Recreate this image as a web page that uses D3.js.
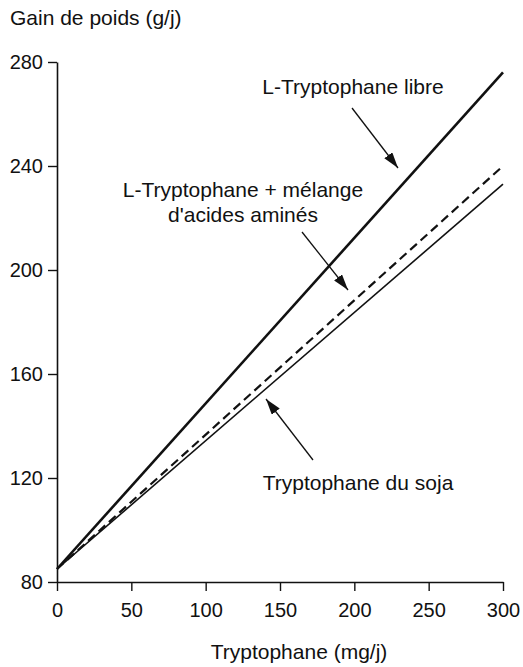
<!DOCTYPE html>
<html>
<head>
<meta charset="utf-8">
<script src="https://cdn.jsdelivr.net/npm/d3@7"></script>
<style>
  body { margin: 0; background: #fff; }
  text { font-family: "Liberation Sans", Arial, sans-serif; fill: #111; }
</style>
</head>
<body>
<div class="canvas"></div>
<script>
// data
const xTicks = [0, 50, 100, 150, 200, 250, 300];
const yTicks = [80, 120, 160, 200, 240, 280];
const tryptoDose = [0, 300];
const libre = [85, 276];
const melange = [85, 240];
const soja = [85, 233];

const dims = { width: 523, height: 667 };

const svg = d3.select('.canvas')
    .append('svg')
    .attr('width', dims.width)
    .attr('height', dims.height);

const x = d3.scaleLinear().domain([0, 300]).range([57, 503]);
const y = d3.scaleLinear().domain([80, 280]).range([582, 62]);

// axes
const xAxis = svg.append('g')
    .attr('transform', `translate(0,${y(80)})`)
    .call(d3.axisBottom(x).tickValues(xTicks).tickSize(9).tickPadding(12).tickSizeOuter(0));
const yAxis = svg.append('g')
    .attr('transform', `translate(${x(0)},0)`)
    .call(d3.axisLeft(y).tickValues(yTicks).tickSize(9).tickPadding(5).tickSizeOuter(0));

[xAxis, yAxis].forEach(ax => {
    ax.select('.domain').attr('stroke', '#111').attr('stroke-width', 1.6);
    ax.selectAll('.tick line').attr('stroke', '#111').attr('stroke-width', 1.4);
    ax.selectAll('.tick text').attr('font-size', 20).attr('fill', '#111')
        .style('font-family', '"Liberation Sans", Arial, sans-serif');
});

// axis titles
svg.append('text').attr('x', 10).attr('y', 25).attr('font-size', 21).text('Gain de poids (g/j)');
svg.append('text').attr('x', 299).attr('y', 659).attr('font-size', 21)
    .attr('text-anchor', 'middle').text('Tryptophane (mg/j)');

// lines
const line = d3.line().x(d => x(d[0])).y(d => y(d[1]));
const series = [
    { vals: libre, width: 2.6, dash: null },
    { vals: melange, width: 2.2, dash: '9,5' },
    { vals: soja, width: 1.6, dash: null }
];
svg.selectAll('path.series')
    .data(series)
    .enter()
    .append('path')
    .attr('class', 'series')
    .attr('d', s => line(tryptoDose.map((t, i) => [t, s.vals[i]])))
    .attr('fill', 'none')
    .attr('stroke', '#111')
    .attr('stroke-width', s => s.width)
    .attr('stroke-dasharray', s => s.dash);

// arrow marker
svg.append('defs').append('marker')
    .attr('id', 'head')
    .attr('viewBox', '0 0 16 10')
    .attr('refX', 16).attr('refY', 5)
    .attr('markerWidth', 16).attr('markerHeight', 10)
    .attr('markerUnits', 'userSpaceOnUse')
    .attr('orient', 'auto')
    .append('path')
    .attr('d', 'M0,0 L16,5 L0,10 Z')
    .attr('fill', '#111');

// labels with arrows
const notes = [
    { lines: ['L-Tryptophane libre'], tx: 353, ty: 94, from: [352, 108], to: [398, 168] },
    { lines: ['L-Tryptophane + mélange', "d'acides aminés"], tx: 243, ty: 197, from: [302, 232], to: [348, 290] },
    { lines: ['Tryptophane du soja'], tx: 358, ty: 490, from: [313, 460], to: [266, 399] }
];
notes.forEach(n => {
    n.lines.forEach((l, i) => {
        svg.append('text').attr('x', n.tx).attr('y', n.ty + i * 25)
            .attr('font-size', 21).attr('text-anchor', 'middle').text(l);
    });
    svg.append('line')
        .attr('x1', n.from[0]).attr('y1', n.from[1])
        .attr('x2', n.to[0]).attr('y2', n.to[1])
        .attr('stroke', '#111').attr('stroke-width', 1.3)
        .attr('marker-end', 'url(#head)');
});
</script>
</body>
</html>
